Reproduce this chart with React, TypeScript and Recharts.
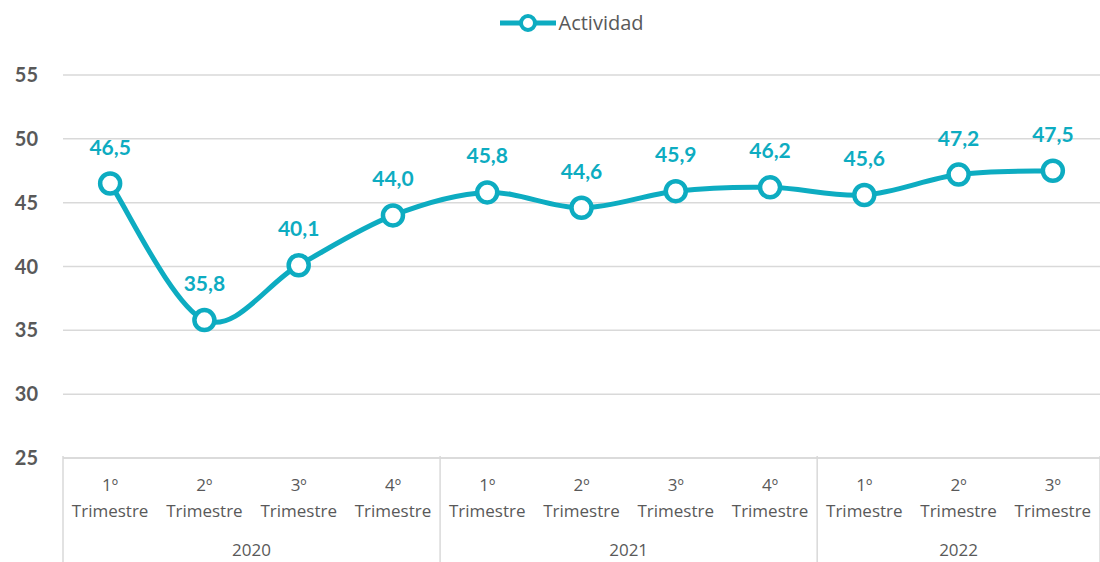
import React from "react";
import { LineChart, Line, XAxis, YAxis, CartesianGrid, LabelList, Legend } from "recharts";

const quarters = ["1º", "2º", "3º", "4º", "1º", "2º", "3º", "4º", "1º", "2º", "3º"];
const years = ["2020", "2020", "2020", "2020", "2021", "2021", "2021", "2021", "2022", "2022", "2022"];
const actividad = [46.5, 35.8, 40.1, 44.0, 45.8, 44.6, 45.9, 46.2, 45.6, 47.2, 47.5];
const yTicks = [25, 30, 35, 40, 45, 50, 55];
const quarterTicks = [0, 1, 2, 3, 4, 5, 6, 7, 8, 9, 10];
const groupTicks = [-0.5, 1.5, 3.5, 5.5, 7.5, 9, 10.5];
const groupLabels: Record<string, string> = { "1.5": "2020", "5.5": "2021", "9": "2022" };

const data = quarters.map((q, i) => ({ idx: i, q, year: years[i], actividad: actividad[i] }));

const TEAL = "#0DACC1";
const GRAY = "#595959";
const GRID = "#D9D9D9";
const FONT = "Lato, 'Open Sans', sans-serif";
const XFONT = "'Open Sans', sans-serif";

// Catmull-Rom style smoothing (similar to spreadsheet smoothed lines)
const smoothCurve = (context: any) => {
  let pts: [number, number][] = [];
  const draw = () => {
    if (!pts.length) return;
    context.moveTo(pts[0][0], pts[0][1]);
    for (let i = 0; i < pts.length - 1; i++) {
      const p0 = pts[i - 1] || pts[i];
      const p1 = pts[i];
      const p2 = pts[i + 1];
      const p3 = pts[i + 2] || p2;
      const c1x = p1[0] + (p2[0] - p0[0]) / 6;
      const c1y = p1[1] + (p2[1] - p0[1]) / 6;
      const c2x = p2[0] - (p3[0] - p1[0]) / 6;
      const c2y = p2[1] - (p3[1] - p1[1]) / 6;
      context.bezierCurveTo(c1x, c1y, c2x, c2y, p2[0], p2[1]);
    }
  };
  return {
    areaStart() {},
    areaEnd() {},
    lineStart() { pts = []; },
    lineEnd() { draw(); },
    point(x: number, y: number) { pts.push([+x, +y]); },
  };
};

const QuarterTick = (props: any) => {
  const { x, y, payload } = props;
  const q = quarters[payload.value];
  return (
    <g>
      <text x={x} y={y + 25} textAnchor="middle" fill={GRAY} fontSize={17} fontFamily={XFONT}>{q}</text>
      <text x={x} y={y + 51} textAnchor="middle" fill={GRAY} fontSize={17} fontFamily={XFONT}>Trimestre</text>
    </g>
  );
};

const GroupTick = (props: any) => {
  const { x, y, payload } = props;
  const label = groupLabels[String(payload.value)];
  if (label) {
    return (
      <text x={x} y={y + 20} textAnchor="middle" fill={GRAY} fontSize={17} fontFamily={XFONT}>{label}</text>
    );
  }
  return <line x1={x} x2={x} y1={y - 80} y2={y + 40} stroke={GRID} strokeWidth={1.5} />;
};

const LegendContent = () => (
  <div style={{ display: "flex", justifyContent: "center", alignItems: "center", height: 45, fontFamily: XFONT, fontSize: 20, color: GRAY, paddingLeft: 42 }}>
    <svg width={60} height={24}>
      <line x1={2} y1={12} x2={58} y2={12} stroke={TEAL} strokeWidth={5} />
      <circle cx={30} cy={12} r={7} fill="#fff" stroke={TEAL} strokeWidth={4} />
    </svg>
    <span>Actividad</span>
  </div>
);

const fmt = (v: any) => Number(v).toFixed(1).replace(".", ",");

export default function App() {
  return (
    <div style={{ position: "absolute", left: 0, top: 0, width: 1100, height: 562, background: "#fff" }}>
      <LineChart width={1100} height={562} data={data} margin={{ top: 30, right: 0, bottom: 0, left: 0 }}>
        <Legend verticalAlign="top" height={45} content={<LegendContent />} wrapperStyle={{ top: 0, left: 0, width: 1100, height: 45 }} />
        <CartesianGrid vertical={false} stroke={GRID} strokeWidth={1.5} />
        <XAxis
          dataKey="idx"
          type="number"
          domain={[-0.5, 10.5]}
          ticks={quarterTicks}
          interval={0}
          height={70}
          axisLine={{ stroke: GRID, strokeWidth: 1.5 }}
          tickLine={false}
          tick={<QuarterTick />}
        />
        <XAxis
          xAxisId="grp"
          type="number"
          dataKey="idx"
          domain={[-0.5, 10.5]}
          ticks={groupTicks}
          interval={0}
          height={34}
          axisLine={false}
          tickLine={false}
          tick={<GroupTick />}
        />
        <YAxis
          width={63}
          domain={[25, 55]}
          ticks={yTicks}
          interval={0}
          axisLine={false}
          tickLine={false}
          tickSize={0}
          tickMargin={25}
          tick={{ fill: GRAY, fontSize: 20, fontWeight: 700, fontFamily: FONT }}
        />
        <Line
          dataKey="actividad"
          type={smoothCurve as any}
          stroke={TEAL}
          strokeWidth={5}
          dot={{ r: 10, fill: "#fff", stroke: TEAL, strokeWidth: 4.5 }}
          activeDot={false}
          isAnimationActive={false}
        >
          <LabelList dataKey="actividad" position="top" offset={29} formatter={fmt} fill={TEAL} fontSize={21} fontWeight={700} fontFamily={FONT} />
        </Line>
      </LineChart>
    </div>
  );
}
